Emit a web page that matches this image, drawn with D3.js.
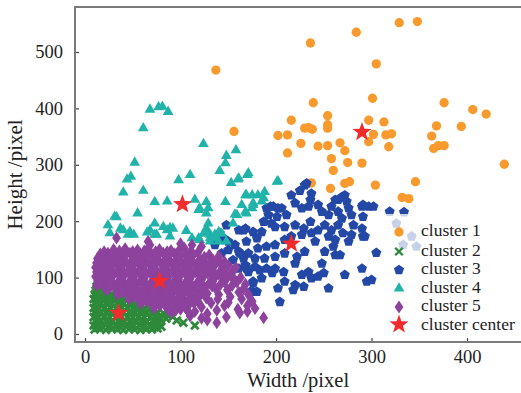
<!DOCTYPE html>
<html>
<head>
<meta charset="utf-8">
<script src="https://cdn.jsdelivr.net/npm/d3@7"></script>
<style>
  html, body { margin: 0; padding: 0; background: #fff; }
  svg text { font-family: "Liberation Serif", "Times New Roman", serif; fill: #222; }
</style>
</head>
<body>
<div id="chart"></div>
<script>
// cluster 1 (orange circles)
const cluster1 = [
  [329,552],[348,554],[284,535],[236,516],[305,479],[301,418],[239,410],[376,410],[406,398],[420,390],
  [216,379],[254,387],[254,371],[254,365],[297,379],[313,376],[368,369],[394,368],[230,365],[234,366],
  [238,363],[202,352],[212,353],[302,354],[315,353],[321,355],[363,351],[226,338],[244,333],[254,334],
  [267,339],[272,325],[297,341],[318,332],[365,329],[370,334],[376,334],[212,321],[258,311],[275,304],
  [290,303],[439,301],[260,290],[237,268],[272,267],[277,270],[257,258],[304,264],[346,270],[332,242],
  [339,240],[137,468],[156,359]
];

// cluster 2 (green crosses)
const cluster2 = [
  [10,8],[16,9],[22,7],[28,9],[34,8],[40,7],[46,9],[52,8],[58,7],[64,9],[70,8],[76,10],
  [9,15],[15,14],[21,16],[27,15],[33,14],[39,16],[45,15],[51,14],[57,16],[63,15],[69,14],[75,16],[80,13],
  [11,22],[17,23],[23,21],[29,22],[35,23],[41,21],[47,22],[53,23],[59,21],[65,22],[71,23],[77,21],
  [9,30],[14,29],[20,31],[26,30],[32,29],[38,31],[44,30],[50,29],[56,31],[62,30],[68,29],[74,31],[79,28],
  [10,38],[16,37],[22,39],[28,38],[34,37],[40,39],[46,38],[52,37],[58,39],[64,38],[70,37],[76,39],
  [9,46],[15,45],[21,47],[27,46],[33,45],[39,47],[45,46],[51,45],[57,47],[63,46],[68,44],
  [10,54],[16,53],[22,55],[28,54],[34,53],[40,55],[46,54],[52,53],[56,52],
  [9,62],[15,61],[21,63],[27,62],[33,61],[39,63],[44,60],
  [10,70],[16,69],[22,71],[28,70],[32,68],
  [11,77],[17,78],[22,76],[12,84],[16,82],
  [82,37],[87,34],[92,31],[103,20],[115,15],[79,25],[85,27],[96,24],
  [13,11],[25,12],[37,11],[49,12],[61,11],[73,12],
  [12,26],[24,26],[36,26],[48,25],[60,26],[72,25],
  [12,42],[24,42],[36,42],[48,41],[60,42],[71,41],
  [12,58],[24,58],[36,57],[48,57],
  [12,74],[24,73],[13,66],[25,66],[36,64]
];

// cluster 3 (blue pentagons)
const cluster3 = [
  [232,267],[225,254],[216,246],[237,249],[236,238],[220,232],[206,223],[197,226],[190,223],[192,211],
  [201,208],[211,211],[227,223],[234,226],[244,229],[248,217],[262,238],[269,243],[274,235],[272,246],
  [276,223],[258,226],[290,226],[297,226],[255,211],[236,199],[229,187],[220,193],[209,190],[199,190],
  [195,196],[187,199],[168,187],[176,181],[185,181],[180,170],[169,164],[157,158],[150,164],[145,170],
  [150,149],[161,146],[171,143],[181,152],[190,155],[199,158],[209,167],[216,173],[227,176],[237,179],
  [244,184],[241,164],[230,146],[222,137],[251,193],[258,184],[255,173],[262,167],[265,193],[269,205],
  [260,155],[262,140],[251,146],[248,125],[250,108],[272,105],[255,81],[291,173],[295,93],[234,110],
  [227,105],[237,99],[220,87],[209,93],[202,81],[196,108],[190,116],[183,113],[178,119],[171,110],
  [168,122],[176,93],[185,99],[199,116],[208,110],[220,125],[178,134],[188,134],[199,137],[209,143],
  [176,75],[166,134],[155,131],[161,116],[143,143],[136,158],[141,179],[148,193],[161,184],[265,217],
  [279,211],[291,208],[290,187],[279,176],[270,179],[276,164],[281,193],[290,116],
  [302,226],[319,217],[334,216],[293,173],[305,144],[300,96],[204,57],[244,102],[229,84],[218,78],[267,140],
  [326,196],[342,173],[347,155],[333,158],
  [230,264],[265,238],[291,229],[194,226],[202,223],
  [166,184],[145,167],[162,143],[169,116],[176,90],[180,75],[173,75]
];

// cluster 4 (teal triangles)
const cluster4 = [
  [68,398],[77,402],[81,403],[87,394],[61,365],[124,337],[148,316],[158,326],[147,303],[141,289],
  [52,304],[48,279],[44,274],[98,273],[110,282],[153,268],[160,274],[170,282],[40,251],[61,254],
  [73,234],[86,235],[115,238],[127,234],[120,223],[147,234],[55,214],[31,208],[24,193],[37,187],
  [47,181],[73,196],[82,190],[89,188],[65,180],[75,176],[89,173],[106,183],[127,214],[129,196],
  [129,181],[120,167],[136,170],[159,211],[164,229],[169,246],
  [33,207],[26,179],[40,184],[45,176],[51,176],[68,184],[73,176],[86,184],[92,187],[112,170],
  [124,178],[131,170],[143,178],[148,164],[155,196],[169,214],[175,246],[176,229],
  [161,276],[202,271],[188,252],[181,246],[168,246],[175,223],[168,217],[157,212],[185,235],[129,223],
  [119,220],[127,187],[131,176],[136,176],[140,181],[119,170],[131,164],[140,164],
  [171,285],[201,270],[187,241],[176,232]
];

// cluster 5 (purple diamonds)
const cluster5 = [
  [33,170],[66,164],[100,160],[112,158],[122,155],[68,158],
  [30,150],[42,151],[55,149],[66,152],[78,150],[90,148],[104,152],
  [16,142],[24,143],[35,141],[47,143],[58,142],[70,141],[82,143],[94,142],[105,141],[118,144],[130,140],[140,138],
  [13,134],[20,135],[29,133],[40,134],[51,135],[62,133],[73,134],[85,135],[97,133],[108,134],[121,132],[134,131],[146,128],
  [12,126],[22,127],[33,125],[44,126],[55,127],[67,125],[79,126],[90,127],[102,125],[114,126],[126,124],[137,125],[150,122],[158,118],
  [11,118],[18,117],[27,119],[38,118],[49,117],[60,119],[71,118],[83,117],[95,119],[107,118],[119,116],[131,117],[143,115],[155,112],
  [12,110],[23,111],[34,109],[45,110],[56,111],[68,109],[80,110],[92,111],[104,109],[116,110],[128,108],[140,106],[152,104],[163,100],
  [11,102],[19,101],[29,103],[40,102],[51,101],[63,103],[75,102],[87,101],[99,103],[111,102],[123,100],[135,98],[147,96],[159,92],[168,88],
  [13,94],[24,95],[35,93],[47,94],[58,95],[70,93],[82,94],[94,95],[106,93],[118,92],[130,90],[142,88],[154,86],[166,80],
  [12,86],[20,87],[31,85],[42,86],[53,87],[65,85],[77,86],[89,87],[101,85],[113,84],[125,82],[137,80],[149,78],[161,74],[171,70],
  [22,78],[33,77],[44,79],[56,78],[68,77],[80,79],[92,78],[104,77],[116,76],[128,72],[140,70],[152,66],[164,62],[175,58],
  [34,70],[45,69],[56,71],[67,70],[79,69],[91,71],[103,70],[115,68],[127,64],[139,62],[150,56],[170,50],[178,45],
  [46,62],[57,61],[68,63],[80,62],[92,61],[104,60],[118,58],[132,55],[146,50],[160,44],
  [58,54],[70,53],[82,55],[95,53],[108,50],[122,48],[138,42],[162,37],
  [72,46],[86,45],[100,44],[115,40],[128,36],[148,30],
  [90,38],[110,32],[122,28],[187,29],[128,25],[138,20],[170,40],
  [20,146],[36,147],[50,146],[62,147],[74,146],[86,146],[98,147],[111,147],
  [18,138],[30,139],[41,138],[53,139],[64,137],[76,138],[88,139],[100,138],[112,137],[125,136],
  [16,130],[26,131],[38,130],[49,129],[60,130],[72,131],[84,130],[95,129],[107,130],[119,129],[131,128],[142,126],
  [15,122],[27,123],[38,122],[50,121],[61,122],[73,123],[85,122],[96,121],[108,122],[120,121],[132,120],[144,119],
  [16,114],[28,115],[39,114],[51,113],[62,114],[74,115],[86,114],[98,113],[110,114],[122,113],[134,112],[146,110],
  [15,106],[27,107],[38,106],[50,105],[61,106],[73,107],[85,106],[97,105],[109,106],[121,104],[133,102],[145,100],[156,98],
  [16,98],[27,99],[39,98],[50,97],[62,98],[74,99],[86,98],[98,97],[110,98],[122,96],[134,94],[146,92],
  [16,90],[27,91],[38,90],[50,89],[61,90],[73,91],[85,90],[97,89],[109,88],[121,87],[133,85],
  [26,82],[38,83],[50,82],[62,81],[74,82],[86,83],[98,82],[110,80],[122,78],
  [39,74],[50,75],[62,74],[74,73],[85,74],[97,74],[109,72],[121,70],
  [51,66],[62,67],[74,66],[86,65],[98,65],[110,64],
  [64,58],[76,59],[88,58],[101,56],[114,55],
  [78,50],[92,49],[105,47],[95,42],[108,40]
];

// cluster centers (red stars)
const centers = [[290,358],[35,37],[216,160],[102,230],[78,94]];

const xTicks = [0, 100, 200, 300, 400];
const yTicks = [0, 100, 200, 300, 400, 500];
const legendLabels = ['cluster 1', 'cluster 2', 'cluster 3', 'cluster 4', 'cluster 5', 'cluster center'];

const width = 521, height = 393;
const plot = { left: 75, right: 521, top: 7, bottom: 342 };

const svg = d3.select('#chart').append('svg')
  .attr('width', width)
  .attr('height', height);

const x = d3.scaleLinear().domain([-10.5, 456.5]).range([plot.left, plot.right]);
const y = d3.scaleLinear().domain([-14.2, 579.8]).range([plot.bottom, plot.top]);

// simple polygon / star path around 0,0
function polyPath(n, rOut, rIn, rot) {
  const pts = [];
  const steps = rIn ? n * 2 : n;
  for (let i = 0; i < steps; i++) {
    const r = rIn && i % 2 ? rIn : rOut;
    const a = rot + i * Math.PI * 2 / steps;
    pts.push([r * Math.sin(a), -r * Math.cos(a)]);
  }
  return 'M' + pts.map(p => p[0].toFixed(2) + ',' + p[1].toFixed(2)).join('L') + 'Z';
}

const circlePath = d3.symbol(d3.symbolCircle, 68)();
const trianglePath = polyPath(3, 6.2, 0, 0);
const pentagonPath = polyPath(5, 5.3, 0, 0);
const diamondPath = 'M0,-6.5L4.4,0L0,6.5L-4.4,0Z';
const crossPath = 'M-3.8,-3.8L3.8,3.8M-3.8,3.8L3.8,-3.8';
const starPath = polyPath(5, 10, 4.1, 0);

const series = [
  { data: cluster1, path: circlePath, color: '#f89a2d', stroke: false },
  { data: cluster2, path: crossPath, color: '#2e8a3b', stroke: true },
  { data: cluster3, path: pentagonPath, color: '#2348a6', stroke: false },
  { data: cluster4, path: trianglePath, color: '#21b3aa', stroke: false },
  { data: cluster5, path: diamondPath, color: '#8d429e', stroke: false },
  { data: centers, path: starPath, color: '#f22c2c', stroke: false }
];

const gMarks = svg.append('g');
series.forEach(s => {
  gMarks.append('g').selectAll('path')
    .data(s.data)
    .enter()
    .append('path')
    .attr('d', s.path)
    .attr('transform', d => `translate(${x(d[0])},${y(d[1])})`)
    .attr('fill', s.stroke ? 'none' : s.color)
    .attr('stroke', s.stroke ? s.color : 'none')
    .attr('stroke-width', s.stroke ? 2.8 : 0);
});

// axes with inward ticks
const xAxis = svg.append('g')
  .attr('transform', `translate(0,${plot.bottom})`)
  .call(d3.axisBottom(x).tickValues(xTicks).tickSize(-4).tickPadding(8));
const yAxis = svg.append('g')
  .attr('transform', `translate(${plot.left},0)`)
  .call(d3.axisLeft(y).tickValues(yTicks).tickSize(-4).tickPadding(12));

[xAxis, yAxis].forEach(a => {
  a.select('.domain').remove();
  a.selectAll('.tick line').attr('stroke', '#444').attr('stroke-width', 1.2);
  a.selectAll('.tick text')
    .style('font-size', '18.5px')
    .attr('fill', '#222')
    .style('font-family', '"Liberation Serif", "Times New Roman", serif');
});

// frame
const frame = svg.append('g').attr('stroke', '#7a7a7a').attr('stroke-width', 2);
frame.append('line').attr('x1', plot.left).attr('x2', width).attr('y1', plot.top).attr('y2', plot.top);
frame.append('line').attr('x1', plot.left).attr('x2', width).attr('y1', plot.bottom).attr('y2', plot.bottom);
frame.append('line').attr('x1', plot.left).attr('x2', plot.left).attr('y1', plot.top - 1).attr('y2', plot.bottom + 1);

// axis labels
svg.append('text')
  .attr('x', (plot.left + plot.right) / 2)
  .attr('y', 387)
  .attr('text-anchor', 'middle')
  .style('font-size', '20.5px')
  .text('Width /pixel');

svg.append('text')
  .attr('transform', `translate(22,${(plot.top + plot.bottom) / 2}) rotate(-90)`)
  .attr('text-anchor', 'middle')
  .style('font-size', '21px')
  .text('Height /pixel');

// legend
const legend = svg.append('g');
legend.append('rect')
  .attr('x', 386).attr('y', 214)
  .attr('width', 140).attr('height', 122)
  .attr('fill', '#fff').attr('fill-opacity', 0.75);

const rowY = [230, 249.5, 268, 286.5, 305, 323.5];
legendLabels.forEach((label, i) => {
  const s = series[i];
  legend.append('path')
    .attr('d', s.path)
    .attr('transform', `translate(399,${rowY[i] + (i < 5 ? 2 : 1)})`)
    .attr('fill', s.stroke ? 'none' : s.color)
    .attr('stroke', s.stroke ? s.color : 'none')
    .attr('stroke-width', s.stroke ? 2.3 : 0);
  legend.append('text')
    .attr('x', 421)
    .attr('y', rowY[i])
    .attr('dy', '0.35em')
    .style('font-size', '17.5px')
    .text(label);
});
</script>
</body>
</html>
